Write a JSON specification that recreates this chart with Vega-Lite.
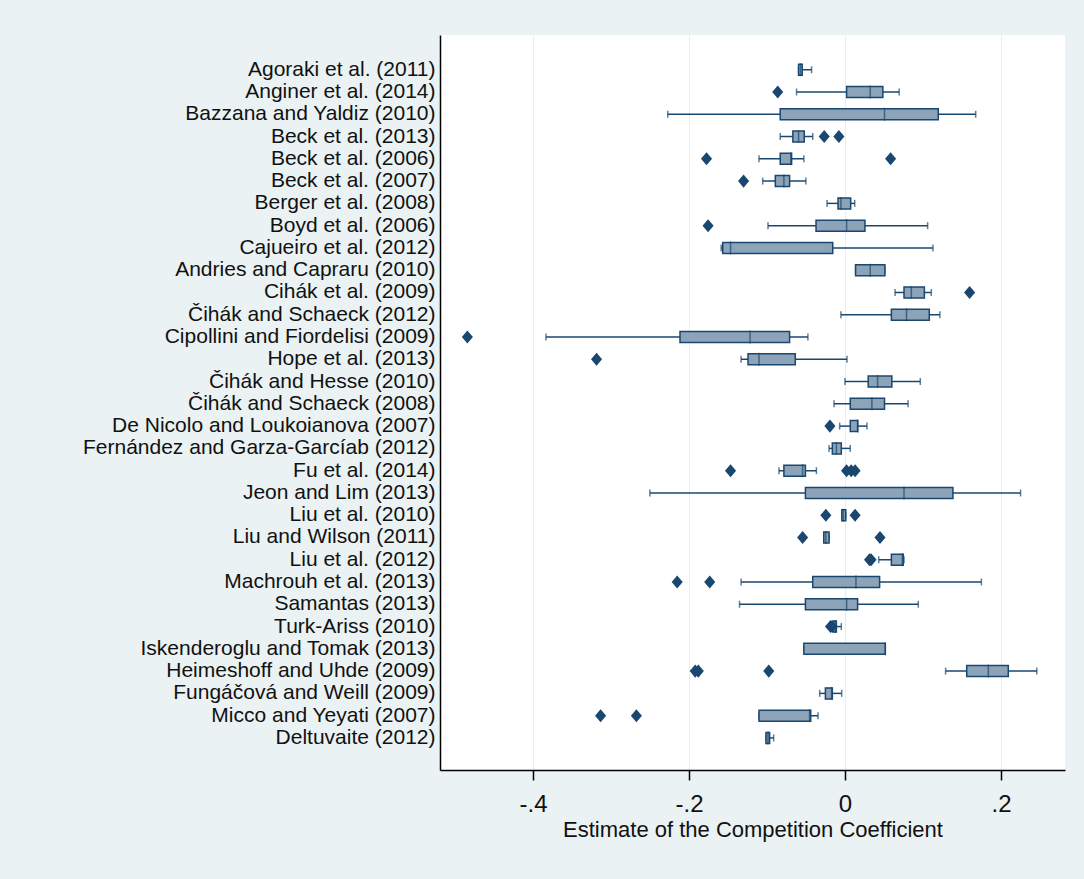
{
  "$schema": "https://vega.github.io/schema/vega-lite/v6.json",
  "width": 625,
  "height": 735,
  "autosize": "none",
  "padding": {"left": 440, "top": 35, "right": 19, "bottom": 109},
  "background": "#eaf2f3",
  "view": {"fill": "white", "stroke": null},
  "config": {"font": "Liberation Sans"},
  "datasets": {
    "boxes": [
      {"study": "Agoraki et al. (2011)", "lo": -0.0595, "q1": -0.0595, "med": -0.057, "q3": -0.0548, "hi": -0.0428},
      {"study": "Anginer et al. (2014)", "lo": -0.0621, "q1": 0.0021, "med": 0.0324, "q3": 0.0486, "hi": 0.0695},
      {"study": "Bazzana and Yaldiz (2010)", "lo": -0.2272, "q1": -0.083, "med": 0.0507, "q3": 0.1196, "hi": 0.1676},
      {"study": "Beck et al. (2013)", "lo": -0.083, "q1": -0.0668, "med": -0.0595, "q3": -0.0522, "hi": -0.0413},
      {"study": "Beck et al. (2006)", "lo": -0.1102, "q1": -0.083, "med": -0.0695, "q3": -0.0684, "hi": -0.0527},
      {"study": "Beck et al. (2007)", "lo": -0.1055, "q1": -0.0893, "med": -0.0783, "q3": -0.071, "hi": -0.0501},
      {"study": "Berger et al. (2008)", "lo": -0.023, "q1": -0.0089, "med": -0.0052, "q3": 0.0073, "hi": 0.0125},
      {"study": "Boyd et al. (2006)", "lo": -0.0987, "q1": -0.0371, "med": 0.0021, "q3": 0.0256, "hi": 0.106},
      {"study": "Cajueiro et al. (2012)", "lo": -0.1587, "q1": -0.1567, "med": -0.1467, "q3": -0.0157, "hi": 0.1128},
      {"study": "Andries and Capraru (2010)", "lo": 0.0136, "q1": 0.0136, "med": 0.0324, "q3": 0.0512, "hi": 0.0512},
      {"study": "Cihák et al. (2009)", "lo": 0.0642, "q1": 0.0757, "med": 0.0851, "q3": 0.1018, "hi": 0.1107},
      {"study": "Čihák and Schaeck (2012)", "lo": -0.0052, "q1": 0.0595, "med": 0.0789, "q3": 0.1081, "hi": 0.1217},
      {"study": "Cipollini and Fiordelisi (2009)", "lo": -0.3833, "q1": -0.2115, "med": -0.1217, "q3": -0.071, "hi": -0.0475},
      {"study": "Hope et al. (2013)", "lo": -0.1332, "q1": -0.1243, "med": -0.1102, "q3": -0.0637, "hi": 0.0026},
      {"study": "Čihák and Hesse (2010)", "lo": 0.0, "q1": 0.0298, "med": 0.0418, "q3": 0.0601, "hi": 0.0966},
      {"study": "Čihák and Schaeck (2008)", "lo": -0.0141, "q1": 0.0068, "med": 0.0345, "q3": 0.0507, "hi": 0.0809},
      {"study": "De Nicolo and Loukoianova (2007)", "lo": -0.0068, "q1": 0.0068, "med": 0.0165, "q3": 0.0162, "hi": 0.0282},
      {"study": "Fernández and Garza-Garcíab (2012)", "lo": -0.0204, "q1": -0.0162, "med": -0.011, "q3": -0.0047, "hi": 0.0068},
      {"study": "Fu et al. (2014)", "lo": -0.0846, "q1": -0.0783, "med": -0.0543, "q3": -0.0507, "hi": -0.0366},
      {"study": "Jeon and Lim (2013)", "lo": -0.2501, "q1": -0.0507, "med": 0.0757, "q3": 0.1384, "hi": 0.2251},
      {"study": "Liu et al. (2010)", "lo": -0.004, "q1": -0.004, "med": -0.002, "q3": 0.001, "hi": 0.001},
      {"study": "Liu and Wilson (2011)", "lo": -0.0272, "q1": -0.0272, "med": -0.0245, "q3": -0.0204, "hi": -0.0204},
      {"study": "Liu et al. (2012)", "lo": 0.0433, "q1": 0.0595, "med": 0.0736, "q3": 0.0747, "hi": 0.0757},
      {"study": "Machrouh et al. (2013)", "lo": -0.1332, "q1": -0.0413, "med": 0.0141, "q3": 0.0444, "hi": 0.1749},
      {"study": "Samantas (2013)", "lo": -0.1352, "q1": -0.0507, "med": 0.0021, "q3": 0.0162, "hi": 0.094},
      {"study": "Turk-Ariss (2010)", "lo": -0.015, "q1": -0.015, "med": -0.0125, "q3": -0.011, "hi": -0.0047},
      {"study": "Iskenderoglu and Tomak (2013)", "lo": -0.0527, "q1": -0.0527, "med": 0.0517, "q3": 0.0517, "hi": 0.0517},
      {"study": "Heimeshoff and Uhde (2009)", "lo": 0.129, "q1": 0.1561, "med": 0.1838, "q3": 0.2094, "hi": 0.246},
      {"study": "Fungáčová and Weill (2009)", "lo": -0.0324, "q1": -0.0251, "med": -0.0172, "q3": -0.0162, "hi": -0.0042},
      {"study": "Micco and Yeyati (2007)", "lo": -0.1102, "q1": -0.1102, "med": -0.0454, "q3": -0.0439, "hi": -0.0345},
      {"study": "Deltuvaite (2012)", "lo": -0.1013, "q1": -0.1013, "med": -0.0987, "q3": -0.0966, "hi": -0.0914}
    ],
    "outliers": [
      {"study": "Anginer et al. (2014)", "est": -0.0862},
      {"study": "Beck et al. (2013)", "est": -0.0266},
      {"study": "Beck et al. (2013)", "est": -0.0078},
      {"study": "Beck et al. (2006)", "est": -0.1775},
      {"study": "Beck et al. (2006)", "est": 0.0585},
      {"study": "Beck et al. (2007)", "est": -0.13},
      {"study": "Boyd et al. (2006)", "est": -0.1755},
      {"study": "Cihák et al. (2009)", "est": 0.1598},
      {"study": "Cipollini and Fiordelisi (2009)", "est": -0.4841},
      {"study": "Hope et al. (2013)", "est": -0.3185},
      {"study": "De Nicolo and Loukoianova (2007)", "est": -0.0193},
      {"study": "Fu et al. (2014)", "est": -0.1467},
      {"study": "Fu et al. (2014)", "est": 0.002},
      {"study": "Fu et al. (2014)", "est": 0.008},
      {"study": "Fu et al. (2014)", "est": 0.013},
      {"study": "Liu et al. (2010)", "est": -0.0245},
      {"study": "Liu et al. (2010)", "est": 0.013},
      {"study": "Liu and Wilson (2011)", "est": -0.0543},
      {"study": "Liu and Wilson (2011)", "est": 0.0449},
      {"study": "Liu et al. (2012)", "est": 0.0315},
      {"study": "Liu et al. (2012)", "est": 0.0335},
      {"study": "Machrouh et al. (2013)", "est": -0.2151},
      {"study": "Machrouh et al. (2013)", "est": -0.1734},
      {"study": "Turk-Ariss (2010)", "est": -0.0185},
      {"study": "Turk-Ariss (2010)", "est": -0.0165},
      {"study": "Heimeshoff and Uhde (2009)", "est": -0.192},
      {"study": "Heimeshoff and Uhde (2009)", "est": -0.188},
      {"study": "Heimeshoff and Uhde (2009)", "est": -0.0977},
      {"study": "Micco and Yeyati (2007)", "est": -0.3133},
      {"study": "Micco and Yeyati (2007)", "est": -0.2674}
    ]
  },
  "encoding": {
    "y": {
      "field": "study",
      "type": "nominal",
      "sort": null,
      "scale": {
        "type": "band",
        "paddingInner": 0,
        "paddingOuter": 1.255,
        "align": 0.53,
        "domain": ["Agoraki et al. (2011)", "Anginer et al. (2014)", "Bazzana and Yaldiz (2010)", "Beck et al. (2013)", "Beck et al. (2006)", "Beck et al. (2007)", "Berger et al. (2008)", "Boyd et al. (2006)", "Cajueiro et al. (2012)", "Andries and Capraru (2010)", "Cihák et al. (2009)", "Čihák and Schaeck (2012)", "Cipollini and Fiordelisi (2009)", "Hope et al. (2013)", "Čihák and Hesse (2010)", "Čihák and Schaeck (2008)", "De Nicolo and Loukoianova (2007)", "Fernández and Garza-Garcíab (2012)", "Fu et al. (2014)", "Jeon and Lim (2013)", "Liu et al. (2010)", "Liu and Wilson (2011)", "Liu et al. (2012)", "Machrouh et al. (2013)", "Samantas (2013)", "Turk-Ariss (2010)", "Iskenderoglu and Tomak (2013)", "Heimeshoff and Uhde (2009)", "Fungáčová and Weill (2009)", "Micco and Yeyati (2007)", "Deltuvaite (2012)"]
      },
      "axis": {
        "title": null,
        "ticks": false,
        "grid": false,
        "domainColor": "#000000",
        "domainWidth": 1.5,
        "labelFont": "Liberation Sans",
        "labelFontSize": 21,
        "labelColor": "#111111",
        "labelPadding": 5,
        "labelLimit": 440
      }
    }
  },
  "layer": [
    {
      "data": {"name": "boxes"},
      "mark": {"type": "rule", "color": "#1a476f", "strokeWidth": 1.5},
      "encoding": {
        "x": {
          "field": "lo",
          "type": "quantitative",
          "scale": {"domain": [-0.5192, 0.2821], "nice": false, "zero": false},
          "axis": {
            "title": "Estimate of the Competition Coefficient",
            "values": [-0.4, -0.2, 0, 0.2],
            "labelExpr": "datum.value == 0 ? '0' : (datum.value < 0 ? '-.' : '.') + round(abs(datum.value) * 10)",
            "grid": true,
            "gridColor": "#e6eef0",
            "gridWidth": 1,
            "domainColor": "#000000",
            "domainWidth": 1.5,
            "tickColor": "#000000",
            "tickWidth": 1.5,
            "tickSize": 10,
            "labelFont": "Liberation Sans",
            "labelFontSize": 24,
            "labelColor": "#111111",
            "labelPadding": 12,
            "titleFont": "Liberation Sans",
            "titleFontSize": 22,
            "titleFontWeight": "normal",
            "titleColor": "#111111",
            "titlePadding": 3
          }
        },
        "x2": {"field": "hi"}
      }
    },
    {
      "data": {"name": "boxes"},
      "mark": {"type": "tick", "color": "#1a476f", "thickness": 1.5, "size": 7, "orient": "vertical"},
      "encoding": {"x": {"field": "lo", "type": "quantitative"}}
    },
    {
      "data": {"name": "boxes"},
      "mark": {"type": "tick", "color": "#1a476f", "thickness": 1.5, "size": 7, "orient": "vertical"},
      "encoding": {"x": {"field": "hi", "type": "quantitative"}}
    },
    {
      "data": {"name": "boxes"},
      "mark": {"type": "bar", "fill": "#8da3b8", "stroke": "#1a476f", "strokeWidth": 1.5, "height": 11, "cornerRadius": 0},
      "encoding": {
        "x": {"field": "q1", "type": "quantitative"},
        "x2": {"field": "q3"}
      }
    },
    {
      "data": {"name": "boxes"},
      "mark": {"type": "tick", "color": "#1a476f", "thickness": 1.5, "size": 13, "orient": "vertical"},
      "encoding": {"x": {"field": "med", "type": "quantitative"}}
    },
    {
      "data": {"name": "outliers"},
      "mark": {"type": "point", "shape": "M-0.85,0L0,-1L0.85,0L0,1Z", "filled": true, "color": "#1a476f", "opacity": 1, "size": 170},
      "encoding": {"x": {"field": "est", "type": "quantitative"}}
    }
  ]
}
